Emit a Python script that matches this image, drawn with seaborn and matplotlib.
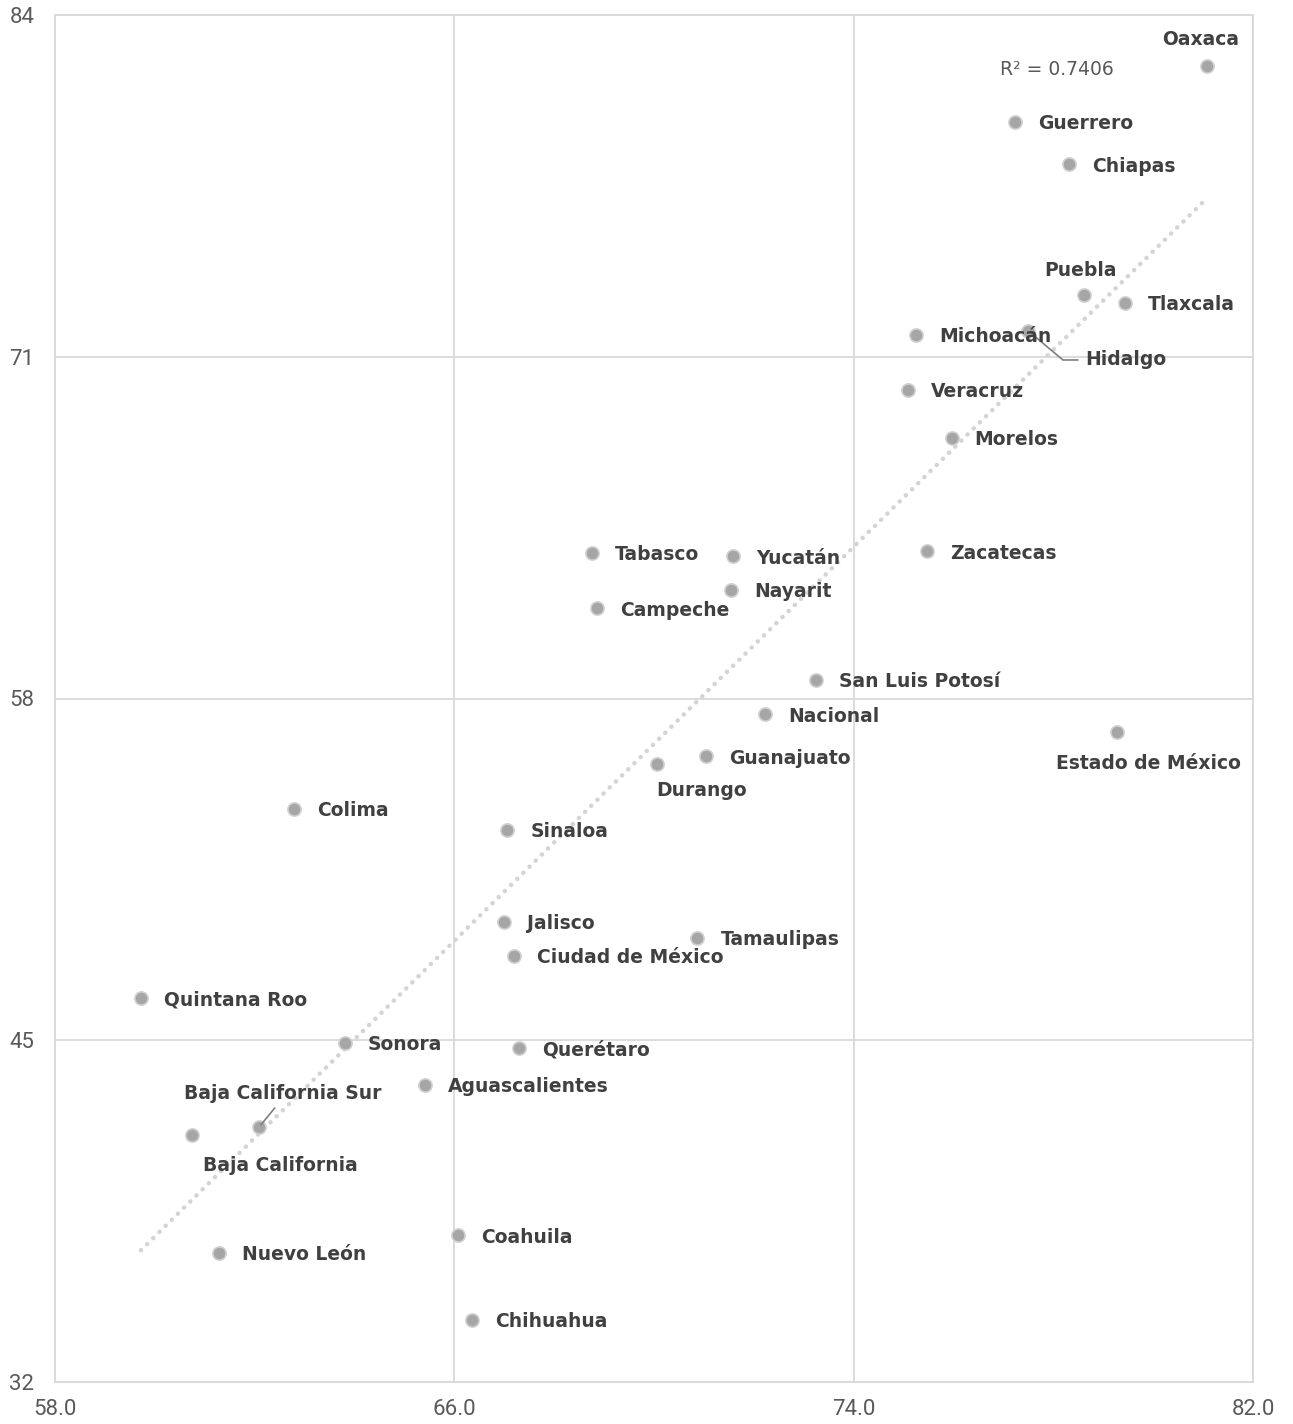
import numpy as np
import pandas as pd
import matplotlib
matplotlib.use("Agg")
import matplotlib.pyplot as plt
import seaborn as sns

# states and their values (x, y)
estados = ['Oaxaca', 'Guerrero', 'Chiapas', 'Puebla', 'Tlaxcala', 'Hidalgo',
           'Michoacán', 'Veracruz', 'Morelos', 'Zacatecas', 'Tabasco', 'Yucatán',
           'Nayarit', 'Campeche', 'San Luis Potosí', 'Nacional', 'Estado de México',
           'Guanajuato', 'Durango', 'Colima', 'Sinaloa', 'Jalisco', 'Tamaulipas',
           'Ciudad de México', 'Quintana Roo', 'Sonora', 'Querétaro', 'Aguascalientes',
           'Baja California Sur', 'Baja California', 'Nuevo León', 'Coahuila', 'Chihuahua']
x_vals = [81.07, 77.24, 78.32, 78.62, 79.44, 77.50,
          75.25, 75.09, 75.96, 75.47, 68.76, 71.59,
          71.55, 68.86, 73.25, 72.23, 79.28,
          71.05, 70.06, 62.79, 67.06, 67.00, 70.87,
          67.20, 59.72, 63.81, 67.30, 65.41,
          62.09, 60.75, 61.29, 66.08, 66.36]
y_vals = [82.06, 79.93, 78.33, 73.35, 73.05, 71.98,
          71.83, 69.74, 67.91, 63.61, 63.54, 63.42,
          62.13, 61.44, 58.71, 57.41, 56.73,
          55.81, 55.51, 53.80, 53.00, 49.50, 48.89,
          48.21, 46.61, 44.90, 44.71, 43.30,
          41.70, 41.40, 36.91, 37.59, 34.36]
x_ticks = [58, 66, 74, 82]
y_ticks = [32, 45, 58, 71, 84]
r2_text = 'R² = 0.7406'

df = pd.DataFrame({'estado': estados, 'x': x_vals, 'y': y_vals})

sns.set_style('white')
plt.rcParams['font.family'] = ['DejaVu Sans']

fig = plt.figure(figsize=(12.93, 14.24), dpi=100)
ax = fig.add_axes([55 / 1293, 1 - 1382 / 1424, 1198 / 1293, 1367 / 1424])

grid_c = '#d9d9d9'
txt_c = '#404040'

# dotted linear trend
sns.regplot(data=df, x='x', y='y', ax=ax, scatter=False, ci=None, truncate=True,
            line_kws=dict(color='#d4d4d4', lw=3.2, linestyle=(0, (0.05, 1.9)),
                          dash_capstyle='round', zorder=2))
sns.scatterplot(data=df, x='x', y='y', ax=ax, s=90, color='#a6a6a6',
                edgecolor='#d0d0d0', linewidth=1.2, zorder=3)

# label placement in pixels: (dx, dy, ha)
offsets = {
    'Oaxaca': (-6, 26, 'center'),
    'Puebla': (-4, 24, 'center'),
    'Durango': (-1, -27, 'left'),
    'Estado de México': (31, -32, 'center'),
    'Baja California Sur': (24, 34, 'center'),
    'Baja California': (11, -31, 'left'),
    'Hidalgo': (57, -29, 'left'),
}
for est, xv, yv in zip(estados, x_vals, y_vals):
    dx, dy, ha = offsets.get(est, (23, -2, 'left'))
    kw = {}
    if est == 'Hidalgo':
        kw['arrowprops'] = dict(arrowstyle='-', color='#7f7f7f', lw=1.2,
                                shrinkA=3, shrinkB=2, relpos=(0, 0.5),
                                connectionstyle='angle,angleA=0,angleB=-40,rad=0')
    if est == 'Baja California Sur':
        kw['arrowprops'] = dict(arrowstyle='-', color='#7f7f7f', lw=1.2,
                                shrinkA=2, shrinkB=2, relpos=(0.48, 0))
    ax.annotate(est, (xv, yv), xytext=(dx, dy), textcoords='offset pixels',
                ha=ha, va='center', fontsize=13.5, fontweight='bold',
                color=txt_c, zorder=4, **kw)

ax.text(76.94, 81.91, r2_text, fontsize=13.5, color='#595959', va='center',
        ha='left')

ax.set_xlim(58, 82)
ax.set_ylim(32, 84)
ax.set_xticks(x_ticks)
ax.set_yticks(y_ticks)
ax.set_xticklabels([f'{v:.1f}' for v in x_ticks])
ax.set_yticklabels([str(v) for v in y_ticks])
ax.grid(True, color=grid_c, lw=1.3)
ax.set_axisbelow(True)
for s in ax.spines.values():
    s.set_color(grid_c)
    s.set_linewidth(1.3)
ax.tick_params(axis='both', length=0, labelsize=16, labelcolor='#595959')
ax.tick_params(axis='x', pad=12)
ax.tick_params(axis='y', pad=15)
for lab in ax.get_xticklabels() + ax.get_yticklabels():
    lab.set_family(['Roboto', 'DejaVu Sans'])
ax.set_xlabel('')
ax.set_ylabel('')

fig.savefig('out.png', dpi=100)
